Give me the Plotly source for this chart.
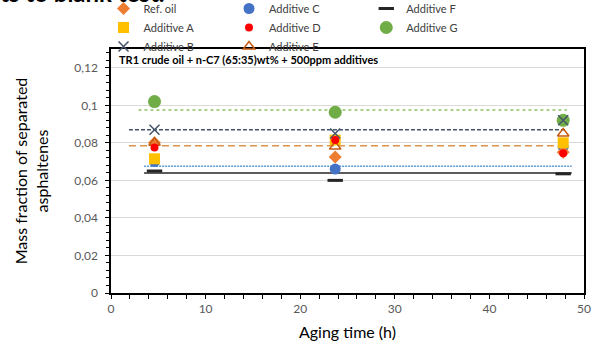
import plotly.graph_objects as go

# ---- data ----
time_h = [4.6, 23.7, 47.8]
ref_oil = [0.080, 0.0725, 0.075]
additive_A = [0.0715, 0.0815, 0.080]
additive_B = [0.087, 0.085, 0.092]
additive_C = [0.070, 0.066, 0.078]
additive_D = [0.0775, 0.0815, 0.0745]
additive_E = [0.080, 0.078, 0.085]
additive_F = [0.065, 0.060, 0.0635]
additive_G = [0.102, 0.0963, 0.092]

# average (reference) lines: level, start, end
level_G = 0.0975
level_B = 0.0870
level_ref = 0.0785
level_C = 0.0675
level_F = 0.0640
span_G = [2.9, 48.2]
span_B = [1.9, 48.2]
span_ref = [1.9, 47.4]
span_C = [3.5, 48.7]
span_F = [3.5, 48.7]

y_ticks = [0, 0.02, 0.04, 0.06, 0.08, 0.1, 0.12]
x_ticks = [0, 10, 20, 30, 40, 50]

FONT = "Lato"
fig = go.Figure()

# reference lines
def hline(span, level, color, dash, width):
    fig.add_trace(go.Scatter(x=span, y=[level, level], mode="lines",
                             line=dict(color=color, dash=dash, width=width),
                             showlegend=False, hoverinfo="skip"))

hline(span_G, level_G, "#A9D18E", "dot", 2)
hline(span_B, level_B, "#44546A", "4px,2px", 1.5)
hline(span_ref, level_ref, "#D9944E", "7px,4px", 1.5)
hline(span_C, level_C, "#5B9BD5", "2px,1px", 1.5)
hline(span_F, level_F, "#262626", "solid", 1.5)

def pts(name, y, legend, rank, **marker):
    fig.add_trace(go.Scatter(x=time_h, y=y, mode="markers", name=name,
                             marker=marker, legend=legend, legendrank=rank))

pts("Additive G", additive_G, "legend3", 2, symbol="circle", size=13, color="#70AD47")
pts("Additive C", additive_C, "legend2", 1, symbol="circle", size=11, color="#4472C4")
pts("Ref. oil", ref_oil, "legend", 1, symbol="diamond", size=10, color="#ED7D31")
pts("Additive A", additive_A, "legend", 2, symbol="square", size=11, color="#FFC000")
pts("Additive B", additive_B, "legend", 3, symbol="x-thin", size=10,
    line=dict(color="#44546A", width=1.5), color="#44546A")
pts("Additive E", additive_E, "legend2", 3, symbol="triangle-up-open", size=10,
    color="#C55A11", line=dict(width=1.5))
pts("Additive D", additive_D, "legend2", 2, symbol="circle", size=8, color="#FF0000")
pts("Additive F", additive_F, "legend3", 1, symbol="line-ew", size=11,
    color="#262626", line=dict(color="#262626", width=3))

leg_common = dict(font=dict(family=FONT, size=11, color="#404040"),
                  bgcolor="rgba(0,0,0,0)", yanchor="top", xanchor="left",
                  tracegroupgap=0, itemwidth=30, traceorder="normal")
leg_y = 1.2254

fig.update_layout(
    width=592, height=349,
    margin=dict(l=111, r=8, t=49, b=56, autoexpand=False),
    paper_bgcolor="white", plot_bgcolor="white",
    separators=", ",
    font=dict(family=FONT, color="#595959"),
    legend=dict(x=-0.0158, y=leg_y, **leg_common),
    legend2=dict(x=0.2495, y=leg_y, **leg_common),
    legend3=dict(x=0.5397, y=leg_y, **leg_common),
    xaxis=dict(range=[0, 50], tickvals=x_ticks, showgrid=False,
               showline=True, linecolor="black", linewidth=1.5, mirror=True,
               ticks="outside", ticklen=4, tickcolor="black", ticklabelstandoff=0,
               minor=dict(dtick=2, ticks="outside", ticklen=4, tickcolor="black"),
               tickfont=dict(family=FONT, size=12, color="#595959"),
               title=dict(text="Aging time (h)", font=dict(family=FONT, size=16, color="black"),
                          standoff=12),
               zeroline=False),
    yaxis=dict(range=[0, 0.13], tickvals=y_ticks, showgrid=True,
               gridcolor="#D9D9D9", gridwidth=1,
               showline=True, linecolor="black", linewidth=1.5, mirror=True,
               ticks="outside", ticklen=4, tickcolor="black", ticklabelstandoff=5,
               minor=dict(dtick=0.004, ticks="outside", ticklen=3, tickcolor="black"),
               tickfont=dict(family=FONT, size=12, color="#595959"),
               title=dict(text="Mass fraction of separated<br>asphaltenes",
                          font=dict(family=FONT, size=16, color="black"), standoff=22),
               zeroline=False),
    annotations=[
        dict(text="<b>TR1 crude oil + n-C7 (65:35)wt% + 500ppm additives</b>",
             xref="paper", yref="paper", x=0.0127, y=0.955, xanchor="left",
             yanchor="middle", showarrow=False,
             font=dict(family=FONT, size=11, color="black")),
        dict(text="<b>ts to blank test.</b>", xref="paper", yref="paper",
             x=-0.2390, y=1.1635, xanchor="left", yanchor="bottom", showarrow=False,
             font=dict(family=FONT, size=24, color="black")),
    ],
)

fig.write_html("out.html", config={"displayModeBar": False},
               post_script="document.body.style.margin='0';")
